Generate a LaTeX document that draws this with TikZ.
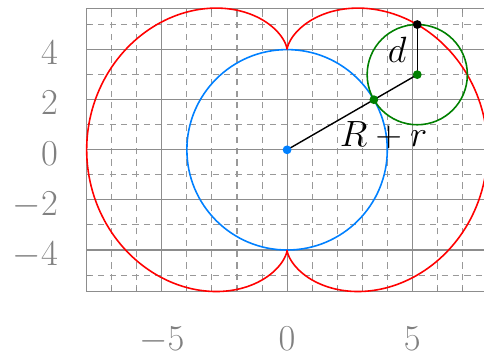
\documentclass[tikz,border=0pt]{standalone}
\definecolor{myblue}{RGB}{0,128,255}
\definecolor{mygreen}{RGB}{0,128,0}
\definecolor{gridgray}{RGB}{128,128,128}
\tikzset{
  minorgrid/.style={draw=gridgray!80, line width=0.6pt, dash pattern=on 3.5pt off 3pt},
  majorgrid/.style={draw=gridgray!90, line width=0.6pt},
  axisframe/.style={draw=gridgray!90, line width=0.6pt},
  ticklab/.style={text=gridgray, font=\huge, inner sep=0pt},
  dot/.style={circle, inner sep=0pt, minimum size=5pt},
  curve/.style={line width=0.9pt},
  seg/.style={draw=black, line width=0.8pt},
}
\begin{document}
\begin{tikzpicture}[x=0.5cm, y=0.5cm]
\useasboundingbox (-11.46,-8.23) rectangle (7.86,5.98);
\def\ym{5.657}
% minor grid
\foreach \x in {-8,-7,-6,-4,-3,-2,-1,1,2,3,4,6,7}
  \draw[minorgrid] (\x,-\ym) -- (\x,\ym);
\foreach \y in {-5,-3,-1,1,3,5}
  \draw[minorgrid] (-8,\y) -- (8,\y);
% major grid
\foreach \x in {-5,0,5}
  \draw[majorgrid] (\x,-\ym) -- (\x,\ym);
\foreach \y in {-4,-2,0,2,4}
  \draw[majorgrid] (-8,\y) -- (8,\y);
% frame and ticks
\draw[axisframe] (-8,-\ym) rectangle (8,\ym);
\foreach \y in {-5,...,5}
  \draw[axisframe] (-8,\y) -- ++(0.18,0);
\foreach \x in {-8,...,7} {
  \draw[axisframe] (\x,-\ym) -- ++(0,0.18);
  \draw[axisframe] (\x,\ym) -- ++(0,-0.18);
}
% tick labels
\foreach \x/\l in {-5/$-5$,0/$0$,5/$5$}
  \node[ticklab, anchor=base] (xl\x) at (\x,-8.02) {\l};
\foreach \y/\l in {4/$4$,2/$2$,0/$0$,-2/$-2$,-4/$-4$}
  \node[ticklab, anchor=base east] (yl\y) at (-9.14,\y-0.61) {\l};
% geometry
\coordinate (O) at (0,0);
\coordinate (C) at (5.196,3);
\coordinate (T) at (3.464,2);
\coordinate (P) at (5.196,5);
\draw[curve, myblue] (O) circle (4);
\draw[curve, red] plot[domain=0:360, samples=361, variable=\t]
  ({-(6*sin(\t)-2*sin(3*\t))},{6*cos(\t)-2*cos(3*\t)}) -- cycle;
\draw[curve, mygreen] (C) circle (2);
\draw[seg] (O) -- (C);
\draw[seg] (C) -- (P);
\node[dot, fill=myblue] (o) at (O) {};
\node[dot, fill=mygreen] (t) at (T) {};
\node[dot, fill=mygreen] (c) at (C) {};
\node[dot, fill=black] (p) at (P) {};
\node[font=\huge, inner sep=0pt] (dl) at (4.39,3.98) {$d$};
\node[font=\huge, inner sep=0pt] (rl) at (3.85,0.6) {$R+r$};
\end{tikzpicture}
\end{document}
